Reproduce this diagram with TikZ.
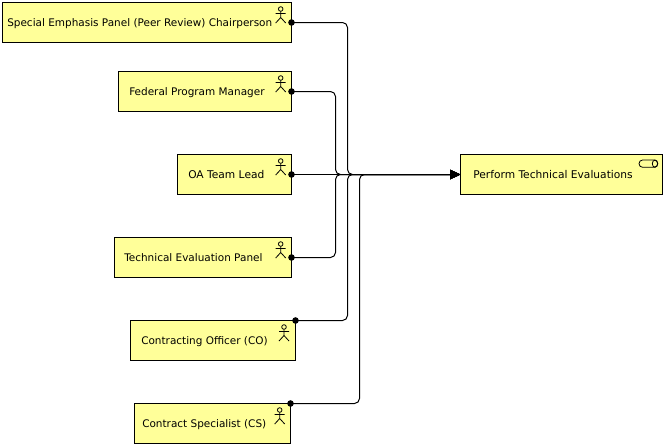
\documentclass[tikz,border=0pt]{standalone}
\usepackage{fontspec}
\setmainfont{DejaVu Sans}
\usepackage{xcolor}
\usetikzlibrary{arrows.meta}
\definecolor{boxfill}{HTML}{FFFF99}
\tikzset{
  box/.style={draw=black,fill=boxfill,line width=0.75pt,inner sep=0pt,outer sep=0pt,minimum height=30pt},
  lbl/.style={anchor=base west,inner sep=0pt,font=\fontsize{7.85}{9}\selectfont,text=black},
  lblw/.style={lbl,font=\fontsize{8}{9}\selectfont},
  conn/.style={draw=black,line width=0.75pt,rounded corners=3.75pt,-{Triangle[length=7.8pt,width=7pt]}},
  actor/.pic={
    \draw[line width=0.6pt] (0,0) circle (2.3);
    \draw[line width=0.6pt] (0,2.3) -- (0,8.5) (-5,4.5) -- (5,4.5) (-5,14) -- (0,8.5) -- (5,14);
  }
}
\begin{document}
\begin{tikzpicture}[x=0.75pt,y=-0.75pt]
  \useasboundingbox (0,0) rectangle (666,447);
  \coordinate (busa) at (335.5,174.5);
  \coordinate (busb) at (347.5,174.5);
  \coordinate (busc) at (359.5,174.5);
  \node[box,minimum width=216.75pt] (chair) at (147,22.5) {};
  \node[box,minimum width=129.75pt] (manager) at (205,91.5) {};
  \node[box,minimum width=85.5pt] (lead) at (234.5,174.5) {};
  \node[box,minimum width=132.75pt] (panel) at (203,257.5) {};
  \node[box,minimum width=123.75pt] (officer) at (213,340.5) {};
  \node[box,minimum width=117pt] (specialist) at (212.5,423.5) {};
  \node[box,minimum width=151.5pt] (perform) at (561.5,174.5) {};
  % Labels
  \node[lbl] (chairt) at (7,26) {Special Emphasis Panel (Peer Review) Chairperson};
  \node[lbl] (managert) at (129,95) {Federal Program Manager};
  \node[lblw] (leadt) at (188,178) {OA Team Lead};
  \node[lbl] (panelt) at (124,261) {Technical Evaluation Panel};
  \node[lbl] (officert) at (141,344) {Contracting Officer (CO)};
  \node[lbl] (specialistt) at (142,427) {Contract Specialist (CS)};
  \node[lblw] (performt) at (473,178) {Perform Technical Evaluations};
  % Icons
  \pic at (280.7,9) {actor};
  \pic at (280.7,78) {actor};
  \pic at (280.7,161) {actor};
  \pic at (280.7,244) {actor};
  \pic at (284,327) {actor};
  \pic at (279.7,410) {actor};
  \draw[line width=0.6pt,rounded corners=2.7pt] (639,160) rectangle (657.7,167.3);
  \draw[line width=0.6pt] (655,163.65) ellipse (2.7 and 3.65);
  % Connectors
  \draw[conn] (chair.east) -| (busb) -- (perform.west);
  \draw[conn] (manager.east) -| (busa) -- (perform.west);
  \draw[conn] (lead.east) -- (perform.west);
  \draw[conn] (panel.east) -| (busa) -- (perform.west);
  \draw[conn] (officer.north east) -| (busb) -- (perform.west);
  \draw[conn] (specialist.north east) -| (busc) -- (perform.west);
  \fill (chair.east) circle (3.3);
  \fill (manager.east) circle (3.3);
  \fill (lead.east) circle (3.3);
  \fill (panel.east) circle (3.3);
  \fill (officer.north east) circle (3.3);
  \fill (specialist.north east) circle (3.3);
\end{tikzpicture}
\end{document}
